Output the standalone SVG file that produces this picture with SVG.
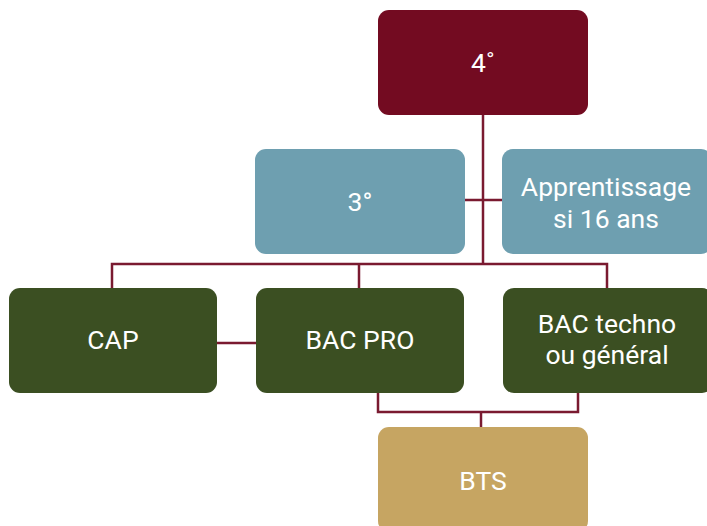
<svg xmlns="http://www.w3.org/2000/svg" width="707" height="526" viewBox="0 0 707 526">
<style>
.n text{font-family:Roboto,"Liberation Sans",sans-serif;font-size:26.5px;fill:#ffffff;text-anchor:middle}
.c{fill:none;stroke:#7a1a30;stroke-width:2.5}
.r{fill:#730b21}.b{fill:#6e9fb0}.g{fill:#3b4f22}.y{fill:#c6a562}
</style>
<rect width="707" height="526" fill="#ffffff"/>
<g id="connectors">
<path class="c" d="M483,115 V264"/>
<path class="c" d="M465,200 H502"/>
<path class="c" d="M112,288 V264 H607 V288"/>
<path class="c" d="M359,264 V288"/>
<path class="c" d="M217,343 H256"/>
<path class="c" d="M378,393 V412 H578 V393"/>
<path class="c" d="M481,412 V427"/>
</g>
<g id="n4" class="n"><rect class="r" x="378" y="10" width="210" height="105" rx="11"/><text x="483" y="72">4˚</text></g>
<g id="n3" class="n"><rect class="b" x="255" y="149" width="210" height="105" rx="11"/><text x="360" y="211">3°</text></g>
<g id="napp" class="n"><rect class="b" x="502" y="149" width="210" height="105" rx="11"/><text x="606" y="196">Apprentissage</text><text x="606" y="228">si 16 ans</text></g>
<g id="ncap" class="n"><rect class="g" x="9" y="288" width="208" height="105" rx="11"/><text x="113" y="349">CAP</text></g>
<g id="nbacpro" class="n"><rect class="g" x="256" y="288" width="208" height="105" rx="11"/><text x="360" y="349">BAC PRO</text></g>
<g id="nbactech" class="n"><rect class="g" x="503" y="288" width="210" height="105" rx="11"/><text x="607" y="333">BAC techno</text><text x="607" y="364">ou général</text></g>
<g id="nbts" class="n"><rect class="y" x="378" y="427" width="210" height="105" rx="11"/><text x="483" y="490">BTS</text></g>
</svg>
